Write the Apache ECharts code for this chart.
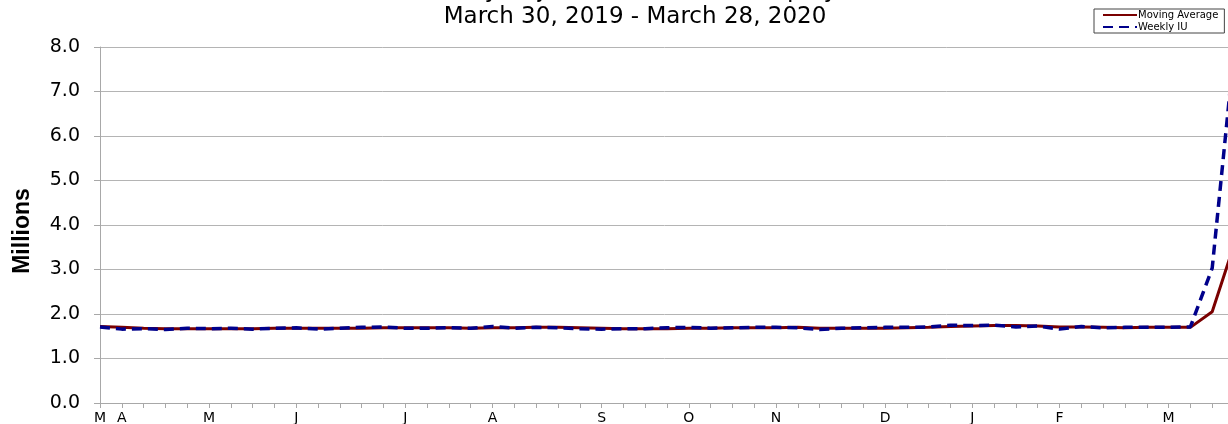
<!doctype html>
<html lang="en">
<head>
<meta charset="UTF-8">
<title>Insured Unemployment</title>
<script src="https://cdn.jsdelivr.net/npm/echarts@6/dist/echarts.min.js"></script>
<style>
  html, body { margin: 0; padding: 0; background: #fff; }
  #main { width: 1228px; height: 424px; }
</style>
</head>
<body>
<div id="main"></div>
<script type="text/javascript">
    // week ending dates
    var weeks = [
        '2019-03-30','2019-04-06','2019-04-13','2019-04-20','2019-04-27',
        '2019-05-04','2019-05-11','2019-05-18','2019-05-25',
        '2019-06-01','2019-06-08','2019-06-15','2019-06-22','2019-06-29',
        '2019-07-06','2019-07-13','2019-07-20','2019-07-27',
        '2019-08-03','2019-08-10','2019-08-17','2019-08-24','2019-08-31',
        '2019-09-07','2019-09-14','2019-09-21','2019-09-28',
        '2019-10-05','2019-10-12','2019-10-19','2019-10-26',
        '2019-11-02','2019-11-09','2019-11-16','2019-11-23','2019-11-30',
        '2019-12-07','2019-12-14','2019-12-21','2019-12-28',
        '2020-01-04','2020-01-11','2020-01-18','2020-01-25',
        '2020-02-01','2020-02-08','2020-02-15','2020-02-22','2020-02-29',
        '2020-03-07','2020-03-14','2020-03-21','2020-03-28'
    ];
    var monthLetters = ['J','F','M','A','M','J','J','A','S','O','N','D'];

    // millions
    var weeklyIU = [
        1.71, 1.66, 1.67, 1.65, 1.68,
        1.67, 1.68, 1.66, 1.68,
        1.69, 1.66, 1.68, 1.70, 1.71,
        1.68, 1.68, 1.69, 1.68,
        1.72, 1.68, 1.70, 1.69, 1.67,
        1.66, 1.67, 1.67, 1.69,
        1.70, 1.68, 1.69, 1.70,
        1.70, 1.69, 1.65, 1.68, 1.69,
        1.70, 1.70, 1.71, 1.75,
        1.74, 1.75, 1.71, 1.73,
        1.66, 1.72, 1.69, 1.70, 1.70,
        1.70, 1.71, 3.03, 7.90
    ];
    var movingAvg = [
        1.72, 1.70, 1.68, 1.67, 1.67,
        1.67, 1.67, 1.67, 1.68,
        1.68, 1.68, 1.68, 1.68, 1.69,
        1.69, 1.69, 1.69, 1.68,
        1.69, 1.69, 1.70, 1.70, 1.69,
        1.68, 1.67, 1.67, 1.67,
        1.68, 1.68, 1.69, 1.69,
        1.69, 1.70, 1.68, 1.68, 1.68,
        1.68, 1.69, 1.70, 1.72,
        1.73, 1.74, 1.74, 1.73,
        1.71, 1.71, 1.70, 1.69, 1.70,
        1.70, 1.70, 2.05, 3.55
    ];

    var myChart = echarts.init(document.getElementById('main'));

    var option = {
        animation: false,
        title: [
            {
                text: 'Seasonally Adjusted Insured Unemployment',
                left: 635, textAlign: 'center', top: -21, padding: 0,
                textStyle: { fontFamily: 'DejaVu Sans', fontSize: 24, fontWeight: 'normal', color: '#000' }
            },
            {
                text: 'March 30, 2019 - March 28, 2020',
                left: 635, textAlign: 'center', top: 6, padding: 0,
                textStyle: { fontFamily: 'DejaVu Sans', fontSize: 23, fontWeight: 'normal', color: '#000' }
            }
        ],
        legend: {
            orient: 'vertical',
            left: 1094, top: 9,
            padding: [1, 6, 1, 8],
            itemGap: 2,
            itemWidth: 34, itemHeight: 10,
            borderColor: '#444', borderWidth: 1,
            backgroundColor: '#fff',
            itemStyle: { opacity: 0 },
            textStyle: { fontFamily: 'DejaVu Sans', fontSize: 10, color: '#000', padding: [0, 0, 0, -4] },
            data: ['Moving Average', 'Weekly IU']
        },
        grid: { left: 100, right: -6, top: 47, bottom: 21, outerBoundsMode: 'none' },
        xAxis: {
            type: 'category',
            boundaryGap: false,
            data: weeks,
            axisLine: { lineStyle: { color: '#a8a8a8', width: 1 } },
            axisTick: { show: true, interval: 0, length: 5, lineStyle: { color: '#a8a8a8' } },
            axisLabel: {
                interval: function (i, v) {
                    return i === 0 || parseInt(v.slice(8), 10) <= 7;
                },
                formatter: function (v) {
                    return monthLetters[parseInt(v.slice(5, 7), 10) - 1];
                },
                margin: 8,
                fontFamily: 'DejaVu Sans', fontSize: 14, color: '#000'
            },
            splitLine: { show: false }
        },
        yAxis: {
            type: 'value',
            min: 0, max: 8, interval: 1,
            name: 'Millions',
            nameLocation: 'middle',
            nameRotate: 90,
            nameGap: 66,
            nameTextStyle: { fontFamily: 'Liberation Sans', fontSize: 23, fontWeight: 'bold', color: '#000', padding: [0, 12, 0, 0] },
            axisLine: { show: true, lineStyle: { color: '#a8a8a8', width: 1 } },
            axisTick: { show: true, length: 6, lineStyle: { color: '#a8a8a8' } },
            axisLabel: {
                formatter: function (v) { return v.toFixed(1); },
                margin: 20,
                fontFamily: 'DejaVu Sans', fontSize: 19, color: '#000'
            },
            splitLine: { show: true, lineStyle: { color: '#b4b4b4', width: 1 } }
        },
        series: [
            {
                name: 'Moving Average',
                type: 'line',
                data: movingAvg,
                symbol: 'none',
                z: 2,
                lineStyle: { color: '#7a0000', width: 3 },
                itemStyle: { color: '#7a0000' }
            },
            {
                name: 'Weekly IU',
                type: 'line',
                data: weeklyIU,
                symbol: 'none',
                z: 3,
                lineStyle: { color: '#00008b', width: 3.5, type: [10, 6] },
                itemStyle: { color: '#00008b' }
            }
        ]
    };
    myChart.setOption(option);
</script>
</body>
</html>
